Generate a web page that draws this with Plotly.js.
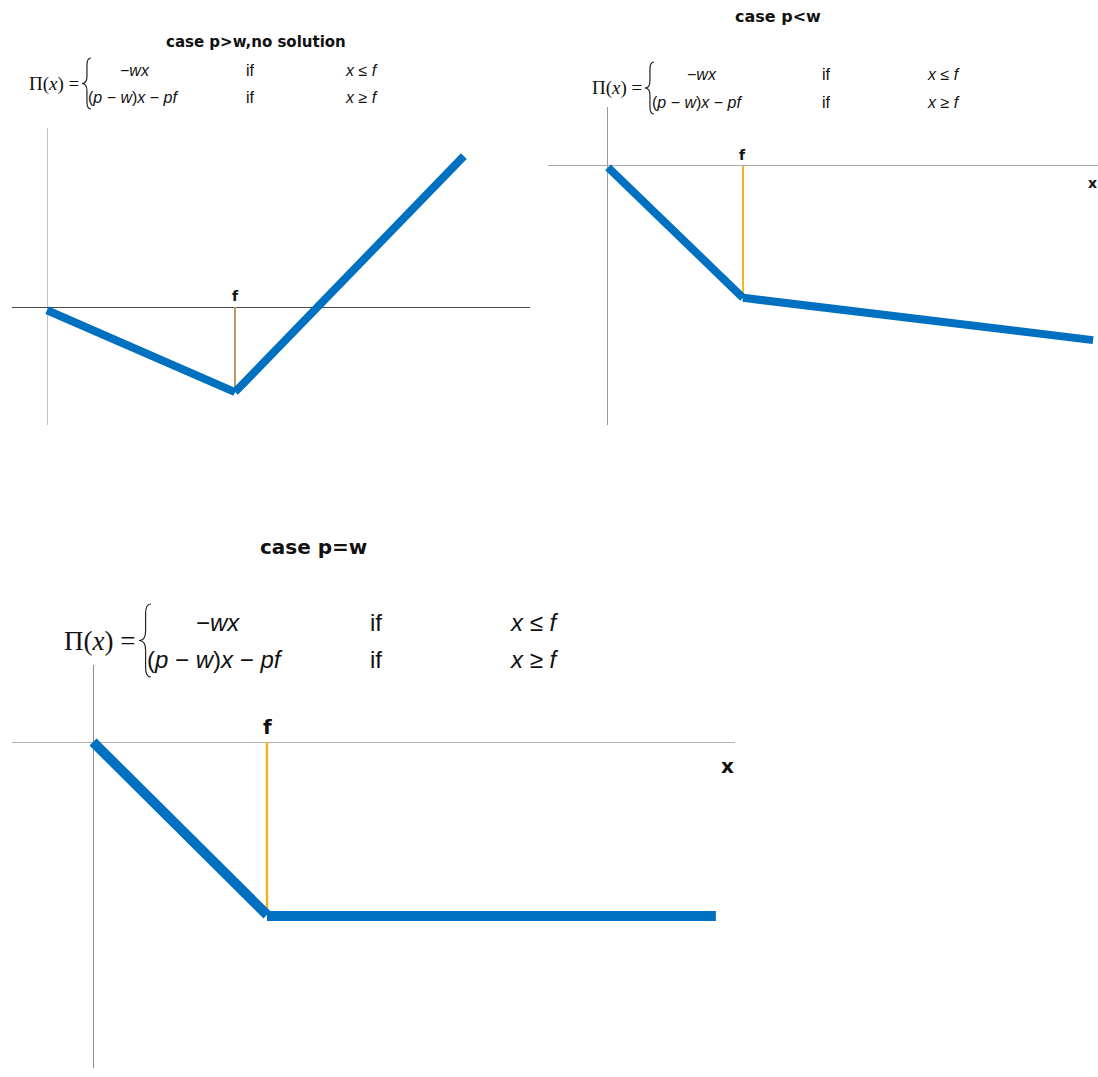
<!DOCTYPE html>
<html><head><meta charset="utf-8">
<script src="https://cdn.plot.ly/plotly-3.0.1.min.js"></script>
<style>html,body{margin:0;padding:0;background:#fff}#chart{width:1098px;height:1077px}</style>
</head><body><div id="chart"></div>
<script>
// ---- data ----
const panelTitles = ["case p>w,no solution", "case p<w", "case p=w"];
const fValues = [4, 3, 3];
// panel 1: p > w
const p1SegA_x = [0, 4];     const p1SegA_y = [-0.07, -1.81];
const p1SegB_x = [4, 8.87];  const p1SegB_y = [-1.81, 3.21];
// panel 2: p < w
const p2SegA_x = [0, 3];     const p2SegA_y = [-0.03, -2.93];
const p2SegB_x = [3, 10.78]; const p2SegB_y = [-2.93, -3.87];
// panel 3: p = w
const p3SegA_x = [0, 3];     const p3SegA_y = [0, -2.98];
const p3SegB_x = [3, 10.74]; const p3SegB_y = [-3.0, -3.0];
const formulaRow1 = ["\u2212<i>wx</i>", "if", "<i>x</i> \u2264 <i>f</i>"];
const formulaRow2 = ["(<i>p</i> \u2212 <i>w</i>)<i>x</i> \u2212 <i>pf</i>", "if", "<i>x</i> \u2265 <i>f</i>"];
const formulaLhs = "\u03a0(<i>x</i>) =";

// ---- layout helpers ----
const W = 1098, H = 1077;
const px = x => x / W;
const py = y => 1 - y / H;
const BLUE = '#0070c0';

function seg(x, y, xa, ya, w) {
  return {x, y, xaxis: xa, yaxis: ya, type: 'scatter', mode: 'lines',
          line: {color: BLUE, width: w}, hoverinfo: 'skip', showlegend: false};
}
function fline(f, yv, xa, ya, color, w) {
  return {x: [f, f], y: [0, yv], xaxis: xa, yaxis: ya, type: 'scatter', mode: 'lines',
          line: {color, width: w}, hoverinfo: 'skip', showlegend: false};
}

const data = [
  fline(fValues[0], p1SegA_y[1], 'x', 'y', '#b99a62', 2),
  seg(p1SegA_x, p1SegA_y, 'x', 'y', 8),
  seg(p1SegB_x, p1SegB_y, 'x', 'y', 8),
  fline(fValues[1], p2SegA_y[1], 'x2', 'y2', '#f2b425', 2),
  seg(p2SegA_x, p2SegA_y, 'x2', 'y2', 8),
  seg(p2SegB_x, p2SegB_y, 'x2', 'y2', 8),
  fline(fValues[2], p3SegA_y[1], 'x3', 'y3', '#f2b425', 2.5),
  seg(p3SegA_x, p3SegA_y, 'x3', 'y3', 10),
  seg(p3SegB_x, p3SegB_y, 'x3', 'y3', 10),
];

function axis(domain, range, zcolor) {
  return {domain, range, showgrid: false, showticklabels: false, ticks: '',
          showline: false, zeroline: true, zerolinecolor: zcolor, zerolinewidth: 1,
          fixedrange: true};
}

const layout = {
  width: W, height: H,
  margin: {l: 0, r: 0, t: 0, b: 0},
  paper_bgcolor: '#fff', plot_bgcolor: 'rgba(0,0,0,0)',
  showlegend: false,
  xaxis:  axis([px(12), px(530)], [-0.745, 10.277], '#c4c4c4'),
  yaxis:  axis([py(425), py(128)], [-2.511, 3.809], '#4a4a4a'),
  xaxis2: axis([px(548), px(1098)], [-1.333, 10.889], '#9a9a9a'),
  yaxis2: axis([py(425), py(107)], [-5.756, 1.311], '#a8a8a8'),
  xaxis3: axis([px(12), px(735)], [-1.397, 11.07], '#8c8c8c'),
  yaxis3: axis([py(1068), py(665)], [-5.621, 1.328], '#b0b0b0'),
  annotations: [],
  shapes: []
};
layout.xaxis2.anchor = 'y2'; layout.yaxis2.anchor = 'x2';
layout.xaxis3.anchor = 'y3'; layout.yaxis3.anchor = 'x3';

const ann = layout.annotations;
function txt(text, x, y, size, opts) {
  ann.push(Object.assign({text, x: px(x), y: py(y), xref: 'paper', yref: 'paper',
    showarrow: false, xanchor: 'center', yanchor: 'middle',
    font: {family: 'DejaVu Sans', size, color: '#111'}}, opts || {}));
}
// titles
txt('<b>' + panelTitles[0] + '</b>', 256, 42, 15);
txt('<b>' + panelTitles[1] + '</b>', 778, 16, 16);
txt('<b>' + panelTitles[2] + '</b>', 313, 547, 20);

// axis labels f and x
function axLabels(xa, ya, f, xLab, size, ys) {
  ann.push({text: '<b>f</b>', x: f, y: 0, xref: xa, yref: ya, showarrow: false,
    yanchor: 'bottom', yshift: 1, font: {family: 'DejaVu Sans', size, color: '#111'}});
  ann.push({text: '<b>x</b>', x: xLab, y: 0, xref: xa, yref: ya, showarrow: false,
    yanchor: 'top', yshift: ys, font: {family: 'DejaVu Sans', size, color: '#111'}});
}
axLabels('x', 'y', fValues[0], (535 - 47) / 47, 14, -4);
axLabels('x2', 'y2', fValues[1], (1093 - 608) / 45, 14, -7);
axLabels('x3', 'y3', fValues[2], (728 - 93) / 58, 20, -10);

// formulas
function brace(x, yTop, yBot, w) {
  const xm = x, x1 = x + w * 0.55, x2 = x + w;
  const ym = (yTop + yBot) / 2, r = w * 0.8;
  const P = (a, b) => px(a).toFixed(5) + ',' + py(b).toFixed(5);
  const d = 'M' + P(x2, yTop) + ' Q' + P(x1, yTop) + ' ' + P(x1, yTop + r) +
            ' L' + P(x1, ym - r) + ' Q' + P(x1, ym) + ' ' + P(xm, ym) +
            ' Q' + P(x1, ym) + ' ' + P(x1, ym + r) +
            ' L' + P(x1, yBot - r) + ' Q' + P(x1, yBot) + ' ' + P(x2, yBot);
  layout.shapes.push({type: 'path', path: d, xref: 'paper', yref: 'paper',
    line: {color: '#222', width: 1.2}});
}
function formula(o) {
  const serif = {family: 'Liberation Serif', size: o.lhsSize, color: '#111'};
  const sans = {family: 'Liberation Sans', size: o.size, color: '#111'};
  txt(formulaLhs, o.lhsX, o.midY, o.lhsSize, {xanchor: 'right', font: serif});
  brace(o.braceX, o.r1 - o.size * 0.75, o.r2 + o.size * 0.75, o.braceW);
  txt(formulaRow1[0], o.c1a, o.r1, o.size, {font: sans});
  txt(formulaRow2[0], o.c1b, o.r2, o.size, {font: sans, xanchor: 'left'});
  txt(formulaRow1[1], o.c2, o.r1, o.size, {font: sans, xanchor: 'left'});
  txt(formulaRow2[1], o.c2, o.r2, o.size, {font: sans, xanchor: 'left'});
  txt(formulaRow1[2], o.c3, o.r1, o.size, {font: sans, xanchor: 'left'});
  txt(formulaRow2[2], o.c3, o.r2, o.size, {font: sans, xanchor: 'left'});
}
formula({lhsX: 81, midY: 84, lhsSize: 19, braceX: 82, braceW: 9, size: 16,
         r1: 70, r2: 97, c1a: 135, c1b: 86, c2: 244, c3: 343});
formula({lhsX: 644, midY: 88, lhsSize: 19, braceX: 645, braceW: 9, size: 16,
         r1: 74, r2: 102, c1a: 702, c1b: 650, c2: 820, c3: 925});
formula({lhsX: 137, midY: 641, lhsSize: 27, braceX: 139, braceW: 12, size: 24,
         r1: 622, r2: 659, c1a: 218, c1b: 145, c2: 368, c3: 508});

Plotly.newPlot('chart', data, layout, {displayModeBar: false, staticPlot: true});
</script>
</body></html>
